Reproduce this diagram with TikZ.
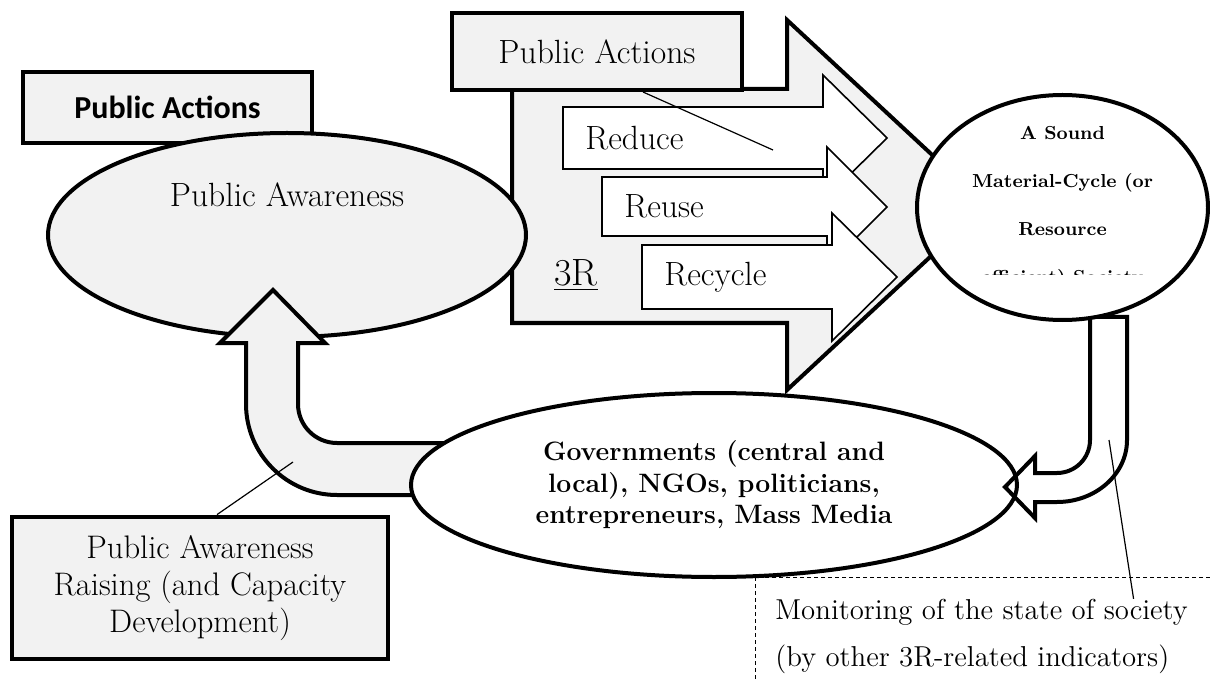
\documentclass[tikz,border=0pt]{standalone}
\usepackage{fontspec}
\newfontfamily\calibri{Carlito}
\usetikzlibrary{shapes.geometric}
\definecolor{lightfill}{HTML}{F2F2F2}
\newcommand{\armfont}{\fontsize{16.8}{20}\selectfont}
\tikzset{
  frame/.style={draw, line width=2pt, fill=lightfill},
  oval/.style={ellipse, draw, line width=2pt, inner sep=0pt},
  blockarrow/.style={draw, line width=2pt, fill=lightfill, line join=miter},
  rarrow/.style={draw, line width=0.8pt, fill=white},
  link/.style={line width=0.6pt},
}
\begin{document}
\begin{tikzpicture}[x=0.5pt, y=-0.5pt]
  \useasboundingbox (0,0) rectangle (1210,679);
  \pgfmathsetmacro{\textgap}{22}
  %
  \draw[blockarrow] (512,89) -- (787,89) -- (787,20) -- (986,205) -- (787,390)
    -- (787,323) -- (512,323) -- cycle;
  \foreach \ax/\ay/\by/\hx/\hy/\ky/\tx/\word in {563/107/169/823/75/201/887/Reduce,
      602/177/236/827/147/267/887/Reuse, 642/245/309/832/213/341/897/Recycle} {
    \draw[rarrow] (\ax,\ay) -- (\hx,\ay) -- (\hx,\hy) -- (\tx,{(\hy+\ky)/2})
      -- (\hx,\ky) -- (\hx,\by) -- (\ax,\by) -- cycle;
    \node[anchor=west, inner sep=0pt, font=\armfont] (\word) at ({\ax+\textgap},{(\ay+\by)/2}) {\word};
  }
  \node[frame, minimum width=145pt, minimum height=38.5pt, font=\armfont] (actions) at (597,51.5) {Public Actions};
  \coordinate (reducein) at (773,150);
  \draw[link] ([xshift=23pt]actions.south) -- (reducein);
  \node[font=\fontsize{19}{22}\selectfont] (threer) at (576,275) {\underline{3R}};
  %
  \node[frame, minimum width=144.5pt, minimum height=35.5pt,
    font=\calibri\bfseries\fontsize{16}{18}\selectfont] (sansactions) at (167.5,107.5) {Public Actions};
  \node[oval, fill=lightfill, minimum width=239pt, minimum height=102pt] (awareness) at (287,235) {};
  \node[font=\armfont] (awarenesstext) at (287,195) {Public Awareness};
  %
  \draw[blockarrow] (220,343) -- (273,290) -- (325,343) -- (298,343) -- (298,404)
    arc[start angle=180, end angle=90, radius=39] -- (520,443) -- (520,495) -- (337,495)
    arc[start angle=90, end angle=180, radius=91] -- (246,343) -- cycle;
  \coordinate (risein) at (293,462);
  \node[frame, line width=2.4pt, minimum width=188pt, minimum height=71pt, align=center,
    font=\fontsize{16.3}{18.5}\selectfont] (raising) at (200,588)
    {Public Awareness\\Raising (and Capacity\\Development)};
  \draw[link] (risein) -- ([xshift=8.5pt]raising.north);
  %
  \node[oval, fill=white, minimum width=303pt, minimum height=92pt, align=center,
    font=\bfseries\fontsize{13.3}{15.75}\selectfont] (actors) at (714,485)
    {Governments (central and\\local), NGOs, politicians,\\entrepreneurs, Mass Media};
  \draw[line width=2pt, line join=miter] (1090,317) -- (1090,440)
    arc[start angle=0, end angle=90, radius=33] -- (1035,473) -- (1035,456) -- (1005,487)
    -- (1035,518) -- (1035,502) -- (1057,502)
    arc[start angle=90, end angle=0, x radius=70, y radius=62] -- (1127,317) -- cycle;
  \node[oval, fill=white, minimum width=145.5pt, minimum height=112.5pt] (society) at (1062.5,207.5) {};
  \begin{scope}
    \clip (900,90) rectangle (1210,275);
    \node[align=center, font=\bfseries\fontsize{9.4}{24}\selectfont] (societytext) at (society)
      {A Sound\\Material-Cycle (or\\Resource\\efficient) Society};
  \end{scope}
  %
  \coordinate (feedout) at (1109,440);
  \node[anchor=west, inner sep=0pt, align=left, font=\fontsize{14.4}{23.5}\selectfont] (monitor) at (775,636.5)
    {Monitoring of the state of society\\(by other 3R-related indicators)};
  \draw[link] (feedout) -- ([xshift=76pt]monitor.north);
  \draw[dashed, line width=0.5pt, dash pattern=on 2pt off 1.5pt] (1210,577) -- (755,577) -- (755,679);
\end{tikzpicture}
\end{document}
